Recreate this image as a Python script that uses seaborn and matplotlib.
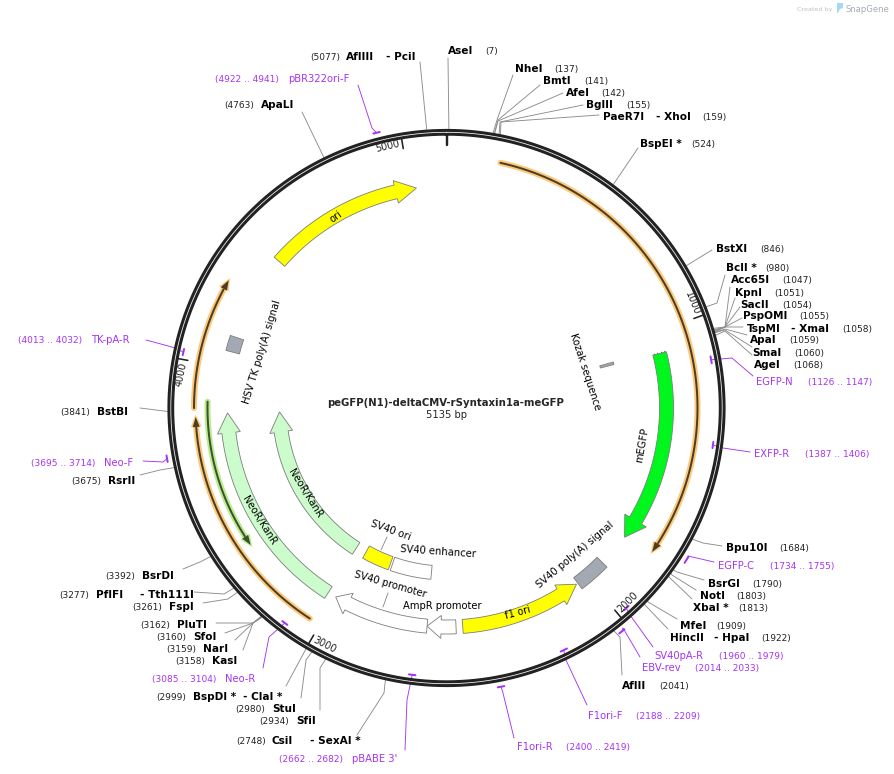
import numpy as np
import matplotlib
matplotlib.use("Agg")
import matplotlib.pyplot as plt
import seaborn as sns

total_bp = 5135
plasmid_name = "peGFP(N1)-deltaCMV-rSyntaxin1a-meGFP"
size_label = "5135 bp"

# enzyme sites
site_names = ["AseI", "NheI", "BmtI", "AfeI", "BglII", "PaeR7I", "BspEI *", "BstXI", "BclI *", "Acc65I",
              "KpnI", "SacII", "PspOMI", "TspMI", "ApaI", "SmaI", "AgeI", "Bpu10I", "BsrGI", "NotI",
              "XbaI *", "MfeI", "HincII", "AflII", "CsiI", "SfiI", "StuI", "BspDI *", "KasI", "NarI",
              "SfoI", "PluTI", "FspI", "PflFI", "BsrDI", "RsrII", "BstBI", "ApaLI", "AflIII"]
site_second = {"PaeR7I": "- XhoI", "TspMI": "- XmaI", "HincII": "- HpaI", "CsiI": "- SexAI *",
               "BspDI *": "- ClaI *", "PflFI": "- Tth111I", "AflIII": "- PciI"}
site_bp = [7, 137, 141, 142, 155, 159, 524, 846, 980, 1047,
           1051, 1054, 1055, 1058, 1059, 1060, 1068, 1684, 1790, 1803,
           1813, 1909, 1922, 2041, 2748, 2934, 2980, 2999, 3158, 3159,
           3160, 3162, 3261, 3277, 3392, 3675, 3841, 4763, 5077]

# primers
primer_names = ["EGFP-N", "EXFP-R", "EGFP-C", "SV40pA-R", "EBV-rev", "F1ori-F", "F1ori-R",
                "pBABE 3'", "Neo-R", "Neo-F", "TK-pA-R", "pBR322ori-F"]
primer_start = [1126, 1387, 1734, 1960, 2014, 2188, 2400, 2662, 3085, 3695, 4013, 4922]
primer_end = [1147, 1406, 1755, 1979, 2033, 2209, 2419, 2682, 3104, 3714, 4032, 4941]

# features as (tail, tip) in bp
arrow_names = ["ori", "mEGFP", "f1 ori", "AmpR promoter", "SV40 promoter", "NeoR/KanR", "NeoR/KanR "]
arrow_tail = [4439, 1079, 2507, 2532, 2640, 3033, 3035]
arrow_tip = [5024, 1797, 2048, 2640, 3001, 3833, 3832]
box_names = ["HSV TK poly(A) signal", "Kozak sequence", "SV40 poly(A) signal", "SV40 ori", "SV40 enhancer"]
box_start = [4060, 1064, 1922, 2850, 2642]
box_end = [4116, 1076, 2042, 2984, 2840]
thin_tail = [177, 3851, 3038, 3873]
thin_tip = [1783, 4285, 3822, 3352]
tick_bp = [0, 1000, 2000, 3000, 4000, 5000]

cx, cy = 446.5, 408.0

# layout: name_x, second_x, num_x, y, elbow, end
site_layout = [
    (448, None, 485, 50, None, (448, 58)),
    (515, None, 554, 68, (497, 120), (513, 75)),
    (543, None, 584, 80, (498, 120), (540, 85)),
    (566, None, 601, 92, (498, 121), (563, 93)),
    (586, None, 626, 104, (500, 122), (583, 105)),
    (603, 656, 702, 116, (501, 122), (599, 115)),
    (640, None, 691, 143, None, (638, 148)),
    (716, None, 760, 248, None, (712, 250)),
    (726, None, 765, 267, (717, 303), (725, 275)),
    (731, None, 782, 279, (725, 327), (730, 287)),
    (735, None, 774, 292, (725, 327), (735, 298)),
    (740, None, 782, 304, (725, 327), (740, 307)),
    (743, None, 799, 315, (725, 327), (742, 318)),
    (747, 791, 842, 328, (725, 327), (743, 327)),
    (750, None, 789, 339, (725, 329), (747, 335)),
    (752, None, 794, 352, (725, 330), (752, 347)),
    (754, None, 793, 364, (725, 331), (752, 355)),
    (726, None, 779, 547, (703, 543), (722, 546)),
    (708, None, 752, 583, (677, 572), (704, 580)),
    (700, None, 736, 595, (672, 575), (696, 590)),
    (693, None, 738, 607, (669, 577), (692, 599)),
    (680, None, 716, 625, (648, 602), (677, 619)),
    (670, 714, 761, 637, (645, 605), (668, 629)),
    (622, None, 659, 685, (620, 637), (622, 675)),
    (272, 310, 236, 740, (384, 693), (357, 735)),
    (296, None, 259, 720, (320, 668), (320, 710)),
    (272, None, 235, 708, (306, 660), (301, 698)),
    (193, 243, 156, 696, None, (286, 686)),
    (212, None, 175, 660, (253, 623), (243, 650)),
    (203, None, 166, 648, (253, 623), (235, 640)),
    (193, None, 156, 636, (253, 623), (225, 633)),
    (177, None, 140, 624, (253, 623), (216, 623)),
    (169, None, 132, 606, (228, 599), (203, 603)),
    (96, 140, 59, 594, (224, 594), (194, 592)),
    (142, None, 105, 575, (200, 562), (183, 569)),
    (108, None, 71, 480, (160, 470), (140, 475)),
    (97, None, 60, 411, None, (140, 408)),
    (261, None, 224, 104, None, (302, 112)),
    (346, 386, 310, 56, None, (420, 62)),
]

# layout: name_x, num_x, y, bar radius, elbow, end
primer_layout = [
    (756, 808, 381, 269, (732, 358), (753, 376)),
    (754, 805, 453, 269, (723, 448), (750, 452)),
    (718, 770, 565, 284, (688, 556), (714, 562)),
    (654, 719, 655, 269, (630, 615), (653, 647)),
    (642, 695, 667, 284, (623, 628), (640, 657)),
    (588, 636, 715, 269, (565, 658), (587, 705)),
    (517, 566, 746, 284, (503, 693), (514, 738)),
    (352, 279, 758, 269, (407, 700), (405, 750)),
    (225, 152, 678, 269, (269, 637), (263, 668)),
    (104, 31, 462, 284, (163, 462), (143, 461)),
    (91, 18, 339, 269, (172, 347), (146, 340)),
    (288, 215, 78, 284, (372, 128), (358, 85)),
]

arrow_style = [
    (222, 14, 23, 21, "#ffff00"),
    (220, 14, 25, 20, "#00f71e"),
    (219, 14, 23, 19, "#ffff00"),
    (219, 14, 23, 14, "#ffffff"),
    (219, 14, 23, 14, "#ffffff"),
    (219, 14, 23, 20, "#ccfccb"),
    (167, 14, 23, 20, "#ccfccb"),
]
box_style = [
    (221, 14, "#a3a9b3"),
    (166, 14, "#a3a9b3"),
    (219, 14, "#a3a9b3"),
    (165, 14, "#ffff00"),
    (165, 14, "#ffffff"),
]
# label x, y, rotation
arrow_text = [(336, 217, 36), (642, 445, 80), (518, 613, 15), (442, 606, 0), (390, 584, -16), (259, 520, -58), (305, 493, -58)]
box_text = [(262, 352, 73), (585, 372, -72), (575, 555, 40), (391, 530, -20), (438, 552, -4)]
thin_style = [
    (251, "#fdc97c", "#4d3d22"),
    (252.5, "#fdc97c", "#4d3d22"),
    (251, "#fdc97c", "#4d3d22"),
    (239, "#bdea8e", "#37542a"),
]
tick_text = [None, (692, 303, -68), (628, 602, 45), (325, 645, -27), (181, 374, 78), (388, 146, 13)]

purple = "#a634f2"
grey = "#8c8c8c"


def polar(bp, r):
    t = np.asarray(bp, dtype=float) / total_bp * 2 * np.pi
    return cx + r * np.sin(t), cy - r * np.cos(t)


def trace(ax, xs, ys, color, px):
    sns.lineplot(x=np.asarray(xs, dtype=float), y=np.asarray(ys, dtype=float), sort=False, estimator=None,
                 color=color, lw=px * 0.72, ax=ax, legend=False)


def arc_arrow(ax, tail, tip, r, w, head_w, head_len, color):
    sign = 1 if tip > tail else -1
    head_bp = head_len / r / (2 * np.pi) * total_bp
    neck = tip - sign * head_bp
    arc = np.linspace(tail, neck, 60)
    xo, yo = polar(arc, r + w / 2)
    xi, yi = polar(arc[::-1], r - w / 2)
    hx1, hy1 = polar(neck, r + head_w / 2)
    tx, ty = polar(tip, r)
    hx2, hy2 = polar(neck, r - head_w / 2)
    xs = np.concatenate([xo, [hx1, tx, hx2], xi])
    ys = np.concatenate([yo, [hy1, ty, hy2], yi])
    ax.fill(xs, ys, facecolor=color, edgecolor="#7d7d7d", lw=0.6, zorder=3)


def arc_box(ax, start, end, r, w, color):
    arc = np.linspace(start, end, 30)
    xo, yo = polar(arc, r + w / 2)
    xi, yi = polar(arc[::-1], r - w / 2)
    ax.fill(np.concatenate([xo, xi]), np.concatenate([yo, yi]), facecolor=color, edgecolor="#7d7d7d", lw=0.6, zorder=3)


def thin_arrow(ax, tail, tip, r, glow, dark):
    sign = 1 if tip > tail else -1
    head_bp = 10 / r / (2 * np.pi) * total_bp
    neck = tip - sign * head_bp
    arc = np.linspace(tail, neck, 120)
    xs, ys = polar(arc, r)
    trace(ax, xs, ys, glow, 6)
    for color, width, pad in [(glow, 11, 2.5), (dark, 7, 0)]:
        hx1, hy1 = polar(neck, r + width / 2)
        tx, ty = polar(tip + sign * pad / r / (2 * np.pi) * total_bp, r)
        hx2, hy2 = polar(neck, r - width / 2)
        ax.fill([hx1, tx, hx2], [hy1, ty, hy2], color=color, lw=0, zorder=2.5)
    trace(ax, xs, ys, dark, 2)


sns.set_theme(style="white")
plt.rcParams["font.family"] = ["DejaVu Sans"]

fig = plt.figure(figsize=(8.94, 7.74), dpi=100)
ax = fig.add_axes([0, 0, 1, 1])

# leaders go under the ring
for name, bp, lay in zip(site_names, site_bp, site_layout):
    name_x, second_x, num_x, y, elbow, end = lay
    x0, y0 = polar(bp, 279)
    pts = [(x0, y0)] + ([elbow] if elbow else []) + [end]
    trace(ax, [p[0] for p in pts], [p[1] for p in pts], grey, 0.9)
    ax.text(name_x, y + 4, name, fontsize=7.6, fontweight="bold", color="black", va="baseline")
    if name in site_second:
        ax.text(second_x, y + 4, site_second[name], fontsize=7.6, fontweight="bold", color="black", va="baseline")
    ax.text(num_x, y + 4, f"({bp})", fontsize=6.5, color="#222222", va="baseline")

for name, s, e, lay in zip(primer_names, primer_start, primer_end, primer_layout):
    name_x, num_x, y, bar_r, elbow, end = lay
    mid = (s + e) / 2
    x0, y0 = polar(mid, bar_r)
    trace(ax, [x0, elbow[0], end[0]], [y0, elbow[1], end[1]], purple, 0.9)
    ax.text(name_x, y + 4, name, fontsize=7.2, color=purple, va="baseline")
    ax.text(num_x, y + 4, f"({s} .. {e})", fontsize=6.5, color=purple, va="baseline")

# backbone
ring = np.linspace(0, total_bp, 721)
rx, ry = polar(ring, 275.7)
trace(ax, rx, ry, "#222222", 6.8)
trace(ax, rx, ry, "#f4f4f4", 0.8)

for s, e, lay in zip(primer_start, primer_end, primer_layout):
    arc = np.linspace(s, e, 8)
    bx, by = polar(arc, lay[3])
    trace(ax, bx, by, purple, 2)

for bp, lab in zip(tick_bp, tick_text):
    x1, y1 = polar(bp, 273)
    x2, y2 = polar(bp, 263)
    trace(ax, [x1, x2], [y1, y2], "#222222", 2.4 if bp == 0 else 1.6)
    if lab:
        ax.text(lab[0], lab[1], str(bp), fontsize=7, color="#222222", rotation=lab[2],
                ha="center", va="center", rotation_mode="anchor")

for tail, tip, st in zip(thin_tail, thin_tip, thin_style):
    thin_arrow(ax, tail, tip, st[0], st[1], st[2])

for name, tail, tip, st, lab in zip(arrow_names, arrow_tail, arrow_tip, arrow_style, arrow_text):
    arc_arrow(ax, tail, tip, st[0], st[1], st[2], st[3], st[4])
    ax.text(lab[0], lab[1], name.strip(), fontsize=7.2, color="black", rotation=lab[2],
            ha="center", va="center", rotation_mode="anchor", zorder=5)

for name, s, e, st, lab in zip(box_names, box_start, box_end, box_style, box_text):
    arc_box(ax, s, e, st[0], st[1], st[2])
    ax.text(lab[0], lab[1], name, fontsize=7.2, color="black", rotation=lab[2],
            ha="center", va="center", rotation_mode="anchor", zorder=5)

# start codon marks on mEGFP
for off in [-5.5, -2, 2, 5.5]:
    x1, y1 = polar(arrow_tail[1], 220 + off)
    x2, y2 = polar(arrow_tail[1] - 3.5, 220 + off)
    trace(ax, [x1, x2], [y1, y2], "#333333", 0.8)

# little leaders for SV40 labels
trace(ax, [387, 381], [537, 550], grey, 0.9)
trace(ax, [388, 383], [593, 607], grey, 0.9)

ax.text(446, 406, plasmid_name, fontsize=7.3, fontweight="bold", ha="center", va="baseline")
ax.text(446, 418, size_label, fontsize=7.2, ha="center", va="baseline")

# logo
ax.text(797, 11, "Created by", fontsize=4.6, color="#c0c0c0", va="baseline")
ax.text(846, 11.5, "SnapGene", fontsize=6.1, color="#a4acb6", va="baseline")
ax.fill([837, 843, 843, 840, 838, 837], [3, 3, 8, 9, 13, 13], color="#a6d8f2", lw=0)

ax.set_xlim(0, 894)
ax.set_ylim(774, 0)
ax.axis("off")
fig.savefig("out.png", dpi=100)
